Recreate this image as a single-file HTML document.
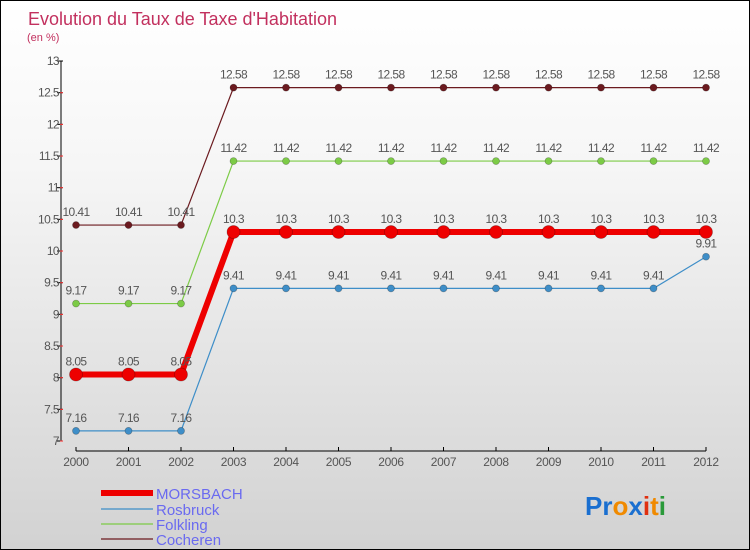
<!DOCTYPE html>
<html><head><meta charset="utf-8"><style>
body{margin:0}
#c{width:748px;height:548px;border:1px solid #000;background:linear-gradient(#fff,#f6f6f6 30%,#d2d2d2);position:relative;overflow:hidden;font-family:"Liberation Sans",sans-serif}
svg{position:absolute;left:0;top:0}
</style></head><body>
<div id="c">
<svg id="s" width="750" height="550">
<text x="27" y="24" font-size="18" fill="#c2305e">Evolution du Taux de Taxe d'Habitation</text>
<text x="26" y="40" font-size="11" fill="#c2305e">(en %)</text>
<g font-size="26" font-weight="bold">
<text x="584" y="514"><tspan fill="#1a6fd0">Pr</tspan><tspan fill="#f08a00">o</tspan><tspan fill="#1a6fd0">x</tspan><tspan fill="#e03010">i</tspan><tspan fill="#f08a00">t</tspan><tspan fill="#2a9a3a">i</tspan></text>
</g>
</svg>
</div>
<script>
const years=[2000,2001,2002,2003,2004,2005,2006,2007,2008,2009,2010,2011,2012];
const morsbach=[8.05,8.05,8.05,10.3,10.3,10.3,10.3,10.3,10.3,10.3,10.3,10.3,10.3];
const rosbruck=[7.16,7.16,7.16,9.41,9.41,9.41,9.41,9.41,9.41,9.41,9.41,9.41,9.91];
const folkling=[9.17,9.17,9.17,11.42,11.42,11.42,11.42,11.42,11.42,11.42,11.42,11.42,11.42];
const cocheren=[10.41,10.41,10.41,12.58,12.58,12.58,12.58,12.58,12.58,12.58,12.58,12.58,12.58];
const yTicks=[7,7.5,8,8.5,9,9.5,10,10.5,11,11.5,12,12.5,13];
const NS='http://www.w3.org/2000/svg';
const s=document.getElementById('s');
const X=i=>75+i*52.5, Y=v=>440-(v-7)*63.33;
function el(t,a,p){const e=document.createElementNS(NS,t);for(const k in a)e.setAttribute(k,a[k]);(p||s).appendChild(e);return e;}
const ya=el('line',{x1:60,y1:60,x2:60,y2:440,stroke:'#000'});


const xa=el('line',{x1:75,y1:450,x2:705,y2:450,stroke:'#000'});


yTicks.forEach(v=>{
 el('line',{x1:56,y1:Y(v),x2:62,y2:Y(v),stroke:'#000'});
 el('line',{x1:59,y1:Y(v)+31.7,x2:62,y2:Y(v)+31.7,stroke:v>7?'#f33':'none'});
 const t=el('text',{x:58,y:Y(v)+4,'font-size':12,fill:'#555','text-anchor':'end','letter-spacing':'-0.6'});
 t.textContent=v;
 
 
});
years.forEach((y,i)=>{
 el('line',{x1:X(i),y1:446,x2:X(i),y2:450,stroke:'#000'});
 const t=el('text',{x:X(i),y:465,'font-size':12,fill:'#555','text-anchor':'middle','letter-spacing':'-0.3'});
 t.textContent=y;
 
 
});
function series(data,color,w,r,name,ly){
 const g=el('g',{});
 
 
 el('polyline',{points:data.map((v,i)=>X(i)+','+Y(v)).join(' '),fill:'none',stroke:color,'stroke-width':w},g);
 data.forEach((v,i)=>{
  const c=el('circle',{cx:X(i),cy:Y(v),r:r,fill:color,stroke:'rgba(0,0,0,0.3)','stroke-width':0.7},g);
  
  
  const t=el('text',{x:X(i),y:Y(v)-9,'font-size':12,fill:'#555','text-anchor':'middle','letter-spacing':'-0.6'},g);
  t.textContent=v;
 });
 const lg=el('g',{});
 
 
 el('line',{x1:100,y1:ly,x2:152,y2:ly,stroke:color,'stroke-width':w},lg);
 const lt=el('text',{x:155,y:ly+6,'font-size':15,fill:'#6a6af0'},lg);lt.textContent=name;
}
series(cocheren,'#6b1a1f',1.2,3.5,'Cocheren',538);
series(folkling,'#7ccb46',1.2,3.5,'Folkling',523);
series(rosbruck,'#3e8ec8',1.2,3.5,'Rosbruck',508);
series(morsbach,'#ee0000',6,6.5,'MORSBACH',492);
</script>
</body></html>
